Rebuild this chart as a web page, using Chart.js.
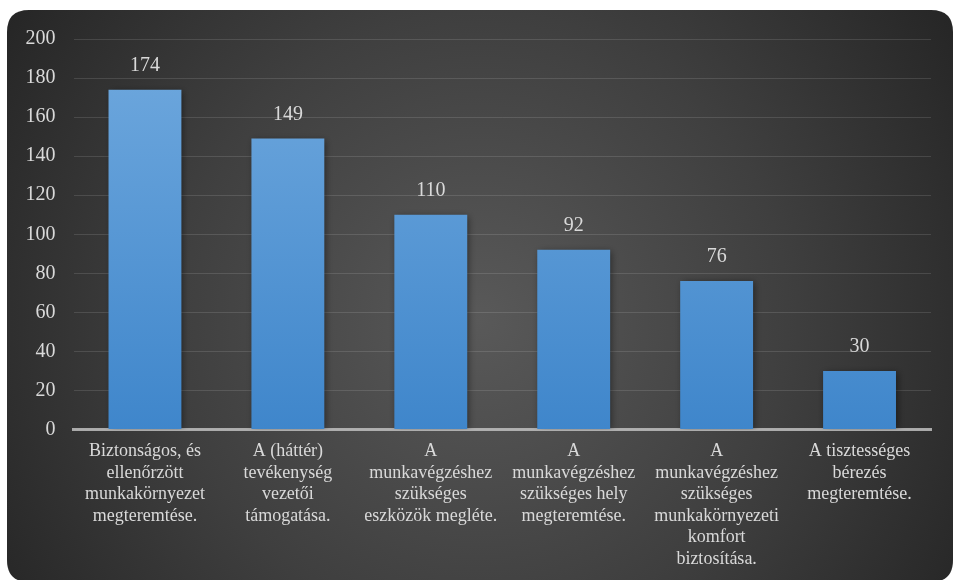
<!DOCTYPE html>
<html>
<head>
<meta charset="utf-8">
<script src="https://cdn.jsdelivr.net/npm/chart.js@4/dist/chart.umd.min.js"></script>
<style>
  html, body { margin: 0; padding: 0; background: #ffffff; }
  #wrap { width: 954px; height: 580px; }
</style>
</head>
<body>
<div id="wrap"><canvas id="c" width="954" height="580"></canvas></div>
<script>
const categories = [
  ["Biztonságos, és", "ellenőrzött", "munkakörnyezet", "megteremtése."],
  ["A (háttér)", "tevékenység", "vezetői", "támogatása."],
  ["A", "munkavégzéshez", "szükséges", "eszközök megléte."],
  ["A", "munkavégzéshez", "szükséges hely", "megteremtése."],
  ["A", "munkavégzéshez", "szükséges", "munkakörnyezeti", "komfort", "biztosítása."],
  ["A tisztességes", "bérezés", "megteremtése."]
];
const values = [174, 149, 110, 92, 76, 30];
const yTicks = [0, 20, 40, 60, 80, 100, 120, 140, 160, 180, 200];

const FONT = "'Liberation Serif'";
const TEXT = "#d9d9d9";
Chart.defaults.font.family = FONT;

const bgPlugin = {
  id: 'bg',
  beforeDraw(chart) {
    const ctx = chart.ctx;
    const x = 7, y = 10, w = 946, h = 572, r = 22;
    ctx.save();
    ctx.beginPath();
    ctx.moveTo(x + r, y);
    ctx.lineTo(x + w - r, y);
    ctx.quadraticCurveTo(x + w, y, x + w, y + r);
    ctx.lineTo(x + w, y + h - r);
    ctx.quadraticCurveTo(x + w, y + h, x + w - r, y + h);
    ctx.lineTo(x + r, y + h);
    ctx.quadraticCurveTo(x, y + h, x, y + h - r);
    ctx.lineTo(x, y + r);
    ctx.quadraticCurveTo(x, y, x + r, y);
    ctx.closePath();
    const g = ctx.createRadialGradient(480, 320, 0, 480, 320, 560);
    g.addColorStop(0, '#595959');
    g.addColorStop(0.55, '#3f3f3f');
    g.addColorStop(1, '#262626');
    ctx.fillStyle = g;
    ctx.fill();
    ctx.restore();
  }
};

const shadowPlugin = {
  id: 'barShadow',
  beforeDatasetsDraw(chart) {
    const ctx = chart.ctx;
    ctx.save();
    ctx.shadowColor = 'rgba(0,0,0,0.45)';
    ctx.shadowBlur = 7;
    ctx.shadowOffsetX = 2;
    ctx.shadowOffsetY = 1;
  },
  afterDatasetsDraw(chart) {
    chart.ctx.restore();
  }
};

const labelPlugin = {
  id: 'dataLabels',
  afterDatasetsDraw(chart) {
    const ctx = chart.ctx;
    const meta = chart.getDatasetMeta(0);
    ctx.save();
    ctx.font = "20px " + FONT;
    ctx.fillStyle = TEXT;
    ctx.textAlign = 'center';
    ctx.textBaseline = 'middle';
    meta.data.forEach((bar, i) => {
      ctx.fillText(String(values[i]), bar.x, bar.y - 24);
    });
    ctx.restore();
  }
};

const ctx = document.getElementById('c').getContext('2d');
const barGrad = ctx.createLinearGradient(0, 40, 0, 430);
barGrad.addColorStop(0, '#70a9de');
barGrad.addColorStop(1, '#3f86cb');

new Chart(ctx, {
  type: 'bar',
  data: {
    labels: categories,
    datasets: [{
      data: values,
      backgroundColor: barGrad,
      borderWidth: 0,
      barPercentage: 0.68,
      categoryPercentage: 0.75
    }]
  },
  options: {
    responsive: false,
    animation: false,
    devicePixelRatio: 1,
    layout: { padding: { top: 39, right: 23, left: 0, bottom: 0 } },
    plugins: {
      legend: { display: false },
      tooltip: { enabled: false }
    },
    scales: {
      x: {
        grid: { display: false, drawTicks: false },
        border: { display: true, color: 'rgba(190,190,190,0.85)', width: 3 },
        ticks: {
          color: TEXT,
          font: { family: FONT, size: 18, lineHeight: 1.2 },
          padding: 11,
          maxRotation: 0,
          autoSkip: false
        },
        afterFit(scale) { scale.height = 150.5; }
      },
      y: {
        min: 0,
        max: 200,
        afterBuildTicks(scale) { scale.ticks = yTicks.map(v => ({ value: v })); },
        grid: { color: 'rgba(255,255,255,0.12)', lineWidth: 1, drawTicks: false },
        border: { display: false },
        ticks: {
          color: TEXT,
          font: { family: FONT, size: 20 },
          padding: 18
        },
        afterFit(scale) { scale.width = 73.5; }
      }
    }
  },
  plugins: [bgPlugin, shadowPlugin, labelPlugin]
});
</script>
</body>
</html>
